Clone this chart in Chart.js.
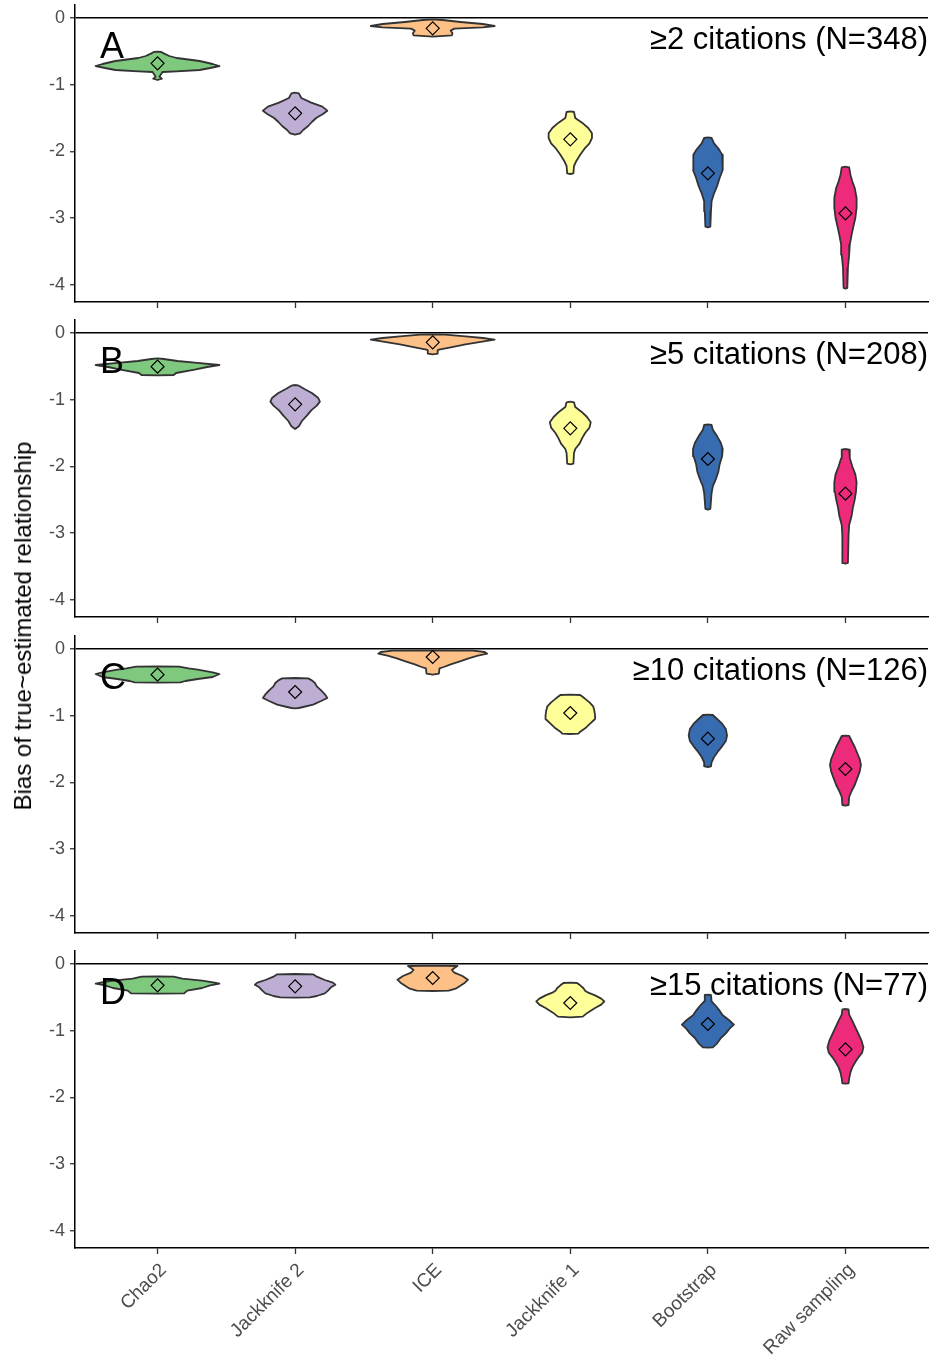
<!DOCTYPE html>
<html>
<head>
<meta charset="utf-8">
<script src="https://cdn.jsdelivr.net/npm/chart.js@4/dist/chart.umd.min.js"></script>
<style>
  body { margin: 0; background: #fff; }
  #wrap { position: relative; width: 932px; height: 1356px; }
  #wrap canvas { position: absolute; left: 0; }
  #ytitle {
    position: absolute; left: 23px; top: 626px;
    transform: translate(-50%, -50%) rotate(-90deg);
    white-space: nowrap; font: 24px "Liberation Sans", Arial, sans-serif; color: #000;
  }
</style>
</head>
<body>
<div id="wrap">
  <canvas id="panelA" width="932" height="316" style="top:0px"></canvas>
  <canvas id="panelB" width="932" height="316" style="top:315px"></canvas>
  <canvas id="panelC" width="932" height="316" style="top:631px"></canvas>
  <canvas id="panelD" width="932" height="410" style="top:946px"></canvas>
  <div id="ytitle">Bias of true~estimated relationship</div>
</div>
<script>
/* ===============================
   Data
================================ */
const methods = ["Chao2", "Jackknife 2", "ICE", "Jackknife 1", "Bootstrap", "Raw sampling"];
const fillColors = ["#7FC97F", "#BEAED4", "#FDC086", "#FFFF99", "#386CB0", "#EE2A7B"];
const yTicks = [0, -1, -2, -3, -4];
const panelLetters = ["A", "B", "C", "D"];
const panelTitles = ["≥2 citations (N=348)", "≥5 citations (N=208)", "≥10 citations (N=126)", "≥15 citations (N=77)"];

// mean bias per method (diamonds)
const meansA = [-0.68, -1.43, -0.155, -1.82, -2.33, -2.93];
const meansB = [-0.505, -1.07, -0.14, -1.43, -1.89, -2.41];
const meansC = [-0.385, -0.645, -0.12, -0.96, -1.345, -1.80];
const meansD = [-0.32, -0.335, -0.21, -0.585, -0.90, -1.28];

// violin profiles: [bias, scaled density] from top to bottom, one per method
const violinsA = [
  [[-0.505,0],[-0.51,.06],[-0.53,.10],[-0.57,.19],[-0.60,.31],[-0.645,.68],[-0.69,.89],[-0.72,1],[-0.75,.85],[-0.78,.68],[-0.80,.31],[-0.81,.08],[-0.88,.03],[-0.91,.07],[-0.93,0]],
  [[-1.12,0],[-1.13,.06],[-1.20,.10],[-1.27,.26],[-1.33,.44],[-1.39,.52],[-1.44,.45],[-1.50,.34],[-1.56,.27],[-1.62,.21],[-1.68,.13],[-1.73,.08],[-1.75,0]],
  [[-0.02,0],[-0.03,.16],[-0.06,.45],[-0.09,.81],[-0.12,1],[-0.14,.81],[-0.16,.35],[-0.19,.29],[-0.23,.32],[-0.26,.31],[-0.28,0]],
  [[-1.40,0],[-1.41,.06],[-1.50,.08],[-1.57,.19],[-1.65,.29],[-1.73,.35],[-1.80,.35],[-1.88,.31],[-1.96,.23],[-2.05,.16],[-2.14,.10],[-2.22,.06],[-2.33,.05],[-2.34,0]],
  [[-1.79,0],[-1.80,.06],[-1.88,.10],[-1.97,.18],[-2.05,.23],[-2.15,.24],[-2.28,.24],[-2.40,.19],[-2.52,.15],[-2.63,.10],[-2.75,.06],[-2.90,.05],[-3.13,.04],[-3.14,0]],
  [[-2.23,0],[-2.24,.06],[-2.35,.08],[-2.45,.11],[-2.55,.15],[-2.70,.18],[-2.85,.18],[-3.00,.16],[-3.12,.13],[-3.25,.10],[-3.40,.07],[-3.55,.06],[-3.75,.04],[-4.05,.03],[-4.06,0]]
];
const violinsB = [
  [[-0.38,0],[-0.39,.10],[-0.42,.32],[-0.445,.60],[-0.48,1],[-0.51,.80],[-0.55,.60],[-0.60,.30],[-0.63,.26],[-0.635,0]],
  [[-0.78,0],[-0.79,.06],[-0.84,.15],[-0.90,.27],[-0.97,.37],[-1.03,.40],[-1.09,.35],[-1.16,.26],[-1.24,.19],[-1.32,.11],[-1.40,.06],[-1.44,0]],
  [[-0.02,0],[-0.025,.20],[-0.05,.53],[-0.075,.81],[-0.10,1],[-0.13,.80],[-0.17,.53],[-0.22,.27],[-0.25,.10],[-0.26,.08],[-0.31,.08],[-0.32,0]],
  [[-1.03,0],[-1.04,.06],[-1.11,.08],[-1.18,.18],[-1.26,.27],[-1.34,.33],[-1.42,.31],[-1.50,.24],[-1.58,.19],[-1.66,.15],[-1.74,.08],[-1.80,.06],[-1.96,.05],[-1.97,0]],
  [[-1.37,0],[-1.38,.06],[-1.45,.08],[-1.55,.15],[-1.65,.21],[-1.74,.24],[-1.85,.23],[-1.97,.19],[-2.08,.17],[-2.19,.13],[-2.30,.08],[-2.40,.06],[-2.64,.04],[-2.65,0]],
  [[-1.74,0],[-1.75,.06],[-1.88,.07],[-2.00,.11],[-2.12,.16],[-2.24,.18],[-2.38,.17],[-2.50,.15],[-2.62,.12],[-2.74,.10],[-2.88,.06],[-3.04,.05],[-3.45,.04],[-3.46,0]]
];
const violinsC = [
  [[-0.26,0],[-0.265,.35],[-0.29,.50],[-0.31,.65],[-0.35,.89],[-0.375,1],[-0.42,.89],[-0.45,.65],[-0.48,.45],[-0.50,.37],[-0.505,0]],
  [[-0.435,0],[-0.44,.21],[-0.47,.27],[-0.51,.32],[-0.56,.35],[-0.62,.42],[-0.68,.48],[-0.735,.52],[-0.78,.42],[-0.835,.29],[-0.87,.13],[-0.885,.06],[-0.89,0]],
  [[-0.02,0],[-0.025,.65],[-0.045,.84],[-0.07,.88],[-0.10,.73],[-0.14,.58],[-0.185,.44],[-0.23,.29],[-0.27,.18],[-0.29,.11],[-0.37,.10],[-0.385,0]],
  [[-0.685,0],[-0.69,.16],[-0.74,.23],[-0.80,.31],[-0.86,.37],[-0.93,.39],[-1.00,.40],[-1.05,.40],[-1.12,.32],[-1.19,.24],[-1.24,.16],[-1.27,.13],[-1.275,0]],
  [[-0.985,0],[-0.99,.08],[-1.05,.15],[-1.12,.23],[-1.20,.29],[-1.30,.31],[-1.38,.29],[-1.46,.23],[-1.54,.16],[-1.62,.10],[-1.70,.06],[-1.76,.05],[-1.77,0]],
  [[-1.30,0],[-1.305,.06],[-1.38,.10],[-1.47,.15],[-1.56,.19],[-1.65,.23],[-1.74,.25],[-1.84,.23],[-1.94,.19],[-2.04,.15],[-2.13,.10],[-2.22,.06],[-2.34,.05],[-2.35,0]]
];
const violinsD = [
  [[-0.185,0],[-0.19,.26],[-0.22,.40],[-0.25,.72],[-0.28,.92],[-0.295,1],[-0.32,.85],[-0.36,.72],[-0.40,.48],[-0.44,.43],[-0.445,0]],
  [[-0.15,0],[-0.155,.29],[-0.19,.35],[-0.24,.48],[-0.28,.61],[-0.31,.65],[-0.35,.58],[-0.40,.53],[-0.44,.48],[-0.48,.35],[-0.50,.24],[-0.505,0]],
  [[-0.025,0],[-0.03,.40],[-0.06,.35],[-0.09,.31],[-0.13,.35],[-0.18,.48],[-0.235,.57],[-0.28,.52],[-0.33,.44],[-0.37,.37],[-0.40,.26],[-0.405,0]],
  [[-0.28,0],[-0.285,.11],[-0.32,.16],[-0.36,.21],[-0.40,.24],[-0.43,.29],[-0.47,.40],[-0.52,.50],[-0.56,.55],[-0.61,.50],[-0.66,.40],[-0.73,.28],[-0.79,.20],[-0.80,0]],
  [[-0.46,0],[-0.465,.05],[-0.56,.06],[-0.63,.13],[-0.70,.19],[-0.77,.24],[-0.84,.34],[-0.91,.42],[-0.97,.35],[-1.04,.29],[-1.11,.21],[-1.19,.15],[-1.25,.08],[-1.255,0]],
  [[-0.675,0],[-0.68,.05],[-0.76,.06],[-0.85,.11],[-0.95,.16],[-1.05,.21],[-1.15,.26],[-1.25,.29],[-1.33,.27],[-1.40,.21],[-1.47,.16],[-1.55,.11],[-1.63,.08],[-1.72,.06],[-1.79,.05],[-1.795,0]]
];

const panels = [
  { id: "panelA", violins: violinsA, means: meansA },
  { id: "panelB", violins: violinsB, means: meansB },
  { id: "panelC", violins: violinsC, means: meansC },
  { id: "panelD", violins: violinsD, means: meansD },
];

/* ===============================
   Helpers
================================ */
const FONT = '"Liberation Sans", Arial, sans-serif';
const HALF_WIDTH = 0.45; // max half width of a violin, in category units
Chart.defaults.font.family = FONT;

// closed outline: right side top->bottom, then left side bottom->top
function violinOutline(profile, pos) {
  const right = profile.map(([v, d]) => ({ x: pos + d * HALF_WIDTH, y: v }));
  const left = profile.slice().reverse().map(([v, d]) => ({ x: pos - d * HALF_WIDTH, y: v }));
  return right.concat(left);
}

// panel letter (top left) and citation label (top right)
function panelTextPlugin(idx) {
  return {
    id: "panelText" + idx,
    afterDatasetsDraw(chart) {
      const { ctx, chartArea, scales } = chart;
      const y0 = scales.y.getPixelForValue(0);
      ctx.save();
      ctx.fillStyle = "#000";
      ctx.textBaseline = "alphabetic";
      ctx.font = "36px " + FONT;
      ctx.textAlign = "left";
      ctx.fillText(panelLetters[idx], chartArea.left + 25, y0 + 40);
      ctx.font = "31px " + FONT;
      ctx.textAlign = "right";
      ctx.fillText(panelTitles[idx], chartArea.right, y0 + 31);
      ctx.restore();
    },
  };
}

/* ===============================
   Violin panels
================================ */
function renderPanel(panel, idx) {
  const isLast = idx === panels.length - 1;

  const datasets = panel.violins.map((profile, i) => ({
    data: violinOutline(profile, i + 1),
    borderColor: "#333333",
    borderWidth: 1.8,
    backgroundColor: fillColors[i],
    fill: "shape",
    pointRadius: 0,
    tension: 0,
    borderJoinStyle: "round",
    order: 1,
  }));

  datasets.push({
    data: panel.means.map((m, i) => ({ x: i + 1, y: m })),
    showLine: false,
    pointStyle: "rectRot",
    pointRadius: 6.5,
    pointBorderWidth: 1.2,
    pointBorderColor: "#000",
    pointBackgroundColor: "rgba(0,0,0,0)",
    order: 0,
  });

  new Chart(document.getElementById(panel.id), {
    type: "line",
    data: { datasets },
    plugins: [panelTextPlugin(idx)],
    options: {
      responsive: false,
      animation: false,
      events: [],
      layout: { autoPadding: false, padding: { top: 5, right: 4, left: 0, bottom: 0 } },
      plugins: { legend: { display: false }, tooltip: { enabled: false } },
      scales: {
        x: {
          type: "linear",
          min: 0.4,
          max: 6.6,
          afterBuildTicks: (s) => { s.ticks = methods.map((m, i) => ({ value: i + 1 })); },
          afterFit: (s) => { s.height = isLast ? 108 : 14; s.paddingLeft = 0; s.paddingRight = 0; },
          border: { display: true, color: "#000", width: 1.5 },
          grid: { color: "rgba(0,0,0,0)", drawTicks: true, tickLength: 6, tickColor: "#333", tickWidth: 1.3 },
          ticks: {
            display: isLast,
            autoSkip: false,
            minRotation: 45,
            maxRotation: 45,
            padding: 5,
            labelOffset: 6,
            color: "#4D4D4D",
            font: { size: 19 },
            callback: (v) => methods[v - 1],
          },
        },
        y: {
          min: -4.26,
          max: 0.195,
          afterBuildTicks: (s) => { s.ticks = yTicks.map((v) => ({ value: v })); },
          afterFit: (s) => { s.width = 75; s.paddingTop = 0; s.paddingBottom = 0; },
          border: { display: true, color: "#000", width: 1.5 },
          grid: {
            color: (c) => (c.tick && c.tick.value === 0 ? "#000" : "rgba(0,0,0,0)"),
            lineWidth: 1.5,
            drawTicks: true,
            tickLength: 5,
            tickColor: "#333",
            tickWidth: 1.3,
          },
          ticks: {
            padding: 5,
            color: "#4D4D4D",
            font: { size: 18 },
            callback: (v) => String(v),
          },
        },
      },
    },
  });
}

panels.forEach(renderPanel);
</script>
</body>
</html>
